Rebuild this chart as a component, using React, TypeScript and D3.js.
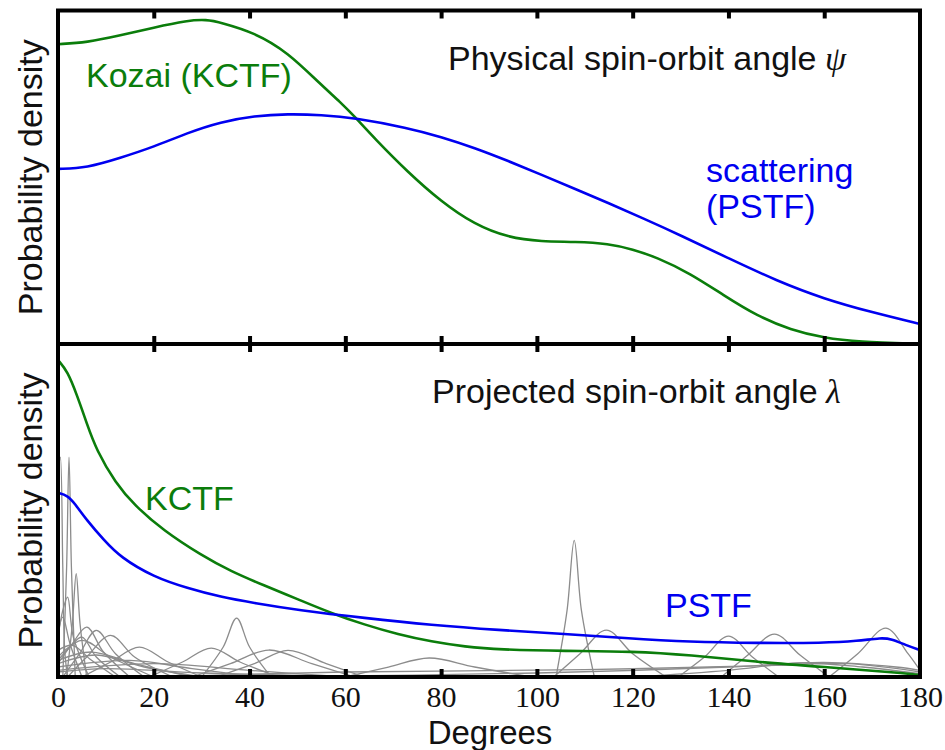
import React, { useEffect, useRef } from "react";
import * as d3 from "d3";

type Pt = [number, number];

// degrees on the x axis
const xTicks = [0, 20, 40, 60, 80, 100, 120, 140, 160, 180];

// top panel: physical spin-orbit angle psi (density, arbitrary units)
const kozaiPhysical: Pt[] = [
  [0, 0.899], [6, 0.904], [13, 0.925], [20, 0.949], [27, 0.97], [31, 0.973], [34, 0.964],
  [41, 0.934], [48, 0.875], [55, 0.776], [59, 0.725], [62, 0.681], [66, 0.618], [73, 0.516],
  [80, 0.427], [87, 0.358], [94, 0.319], [101, 0.307], [108, 0.307], [115, 0.301], [120, 0.284],
  [125, 0.26], [132, 0.212], [139, 0.146], [146, 0.084], [153, 0.042], [160, 0.018], [167, 0.006],
  [180, 0],
];
const scatterPhysical: Pt[] = [
  [0, 0.525], [6, 0.528], [13, 0.558], [20, 0.591], [27, 0.633], [34, 0.666], [41, 0.684],
  [48, 0.69], [55, 0.687], [62, 0.678], [73, 0.648], [80, 0.621], [87, 0.588], [94, 0.549],
  [101, 0.507], [108, 0.465], [115, 0.422], [122, 0.378], [130, 0.326], [140, 0.257],
  [150, 0.19], [160, 0.135], [170, 0.095], [180, 0.06],
];

// bottom panel: projected spin-orbit angle lambda
const kozaiProjected: Pt[] = [
  [0, 0.952], [2, 0.918], [4, 0.845], [6, 0.762], [8, 0.682], [12, 0.583], [16, 0.515],
  [22, 0.44], [30, 0.365], [36, 0.318], [43, 0.275], [50, 0.234], [57, 0.192], [64, 0.157],
  [71, 0.128], [78, 0.106], [85, 0.091], [92, 0.082], [106, 0.078], [120, 0.077], [132, 0.066],
  [146, 0.045], [160, 0.03], [174, 0.015], [180, 0.006],
];
const scatterProjected: Pt[] = [
  [0, 0.553], [2, 0.545], [3.4, 0.523], [6, 0.471], [9.6, 0.411], [13, 0.36], [20, 0.3],
  [27, 0.267], [34, 0.24], [41, 0.222], [50, 0.201], [64, 0.177], [78, 0.156], [92, 0.141],
  [106, 0.129], [118, 0.117], [132, 0.105], [146, 0.102], [160, 0.102], [167, 0.108],
  [172, 0.118], [174, 0.114], [177, 0.096], [180, 0.081],
];

// individual systems (thin grey curves)
const systemsProjected: Pt[][] = [
  [[0, 0.6], [0.5, 0.66], [1.0, 0.33], [1.4, 0.08], [2, 0]],
  [[1.0, 0], [1.8, 0.33], [2.3, 0.66], [2.8, 0.33], [3.6, 0]],
  [[1.8, 0], [3.0, 0.16], [3.8, 0.31], [4.6, 0.16], [6, 0]],
  [[0, 0.12], [1, 0.2], [2, 0.24], [3.2, 0.12], [6.5, 0]],
  [[0, 0.13], [1, 0.18], [2.5, 0.1], [5, 0]],
  [[0, 0.04], [3, 0.1], [6, 0.15], [9.5, 0.075], [15, 0]],
  [[1, 0], [4.5, 0.07], [8, 0.14], [12, 0.07], [18, 0]],
  [[2, 0], [6, 0.06], [11, 0.125], [16, 0.06], [24, 0]],
  [[0, 0.05], [2.5, 0.09], [5, 0.12], [8, 0.06], [13, 0]],
  [[0, 0.08], [3, 0.095], [7, 0.05], [12, 0]],
  [[0, 0.06], [5, 0.11], [11, 0.06], [20, 0]],
  [[0, 0.05], [7, 0.075], [16, 0.04], [28, 0]],
  [[0, 0.04], [8, 0.066], [18, 0.03], [30, 0]],
  [[0, 0.03], [15, 0.05], [28, 0.025], [42, 0]],
  [[0, 0.02], [20, 0.04], [40, 0.02], [60, 0]],
  [[5, 0], [11, 0.045], [17, 0.09], [23, 0.045], [30, 0]],
  [[0, 0.015], [10, 0.025], [30, 0.012], [70, 0]],
  [[30, 0], [34.5, 0.09], [37.3, 0.177], [40, 0.09], [44.5, 0]],
  [[19, 0], [26, 0.045], [32, 0.087], [38, 0.045], [46, 0]],
  [[28, 0], [36, 0.04], [44, 0.081], [53, 0.04], [62, 0]],
  [[33, 0], [41, 0.04], [48, 0.08], [56, 0.04], [64, 0]],
  [[60, 0], [69, 0.03], [77.5, 0.057], [87, 0.03], [99, 0]],
  [[104, 0], [106.3, 0.2], [107.8, 0.41], [109.3, 0.2], [112, 0]],
  [[103.5, 0], [109, 0.07], [114.5, 0.141], [120, 0.07], [127, 0]],
  [[129.5, 0], [135, 0.06], [140, 0.123], [145, 0.06], [150.5, 0]],
  [[138.5, 0], [144, 0.065], [149.6, 0.129], [155, 0.065], [161, 0]],
  [[161, 0], [167, 0.07], [172.9, 0.147], [177.5, 0.07], [180, 0.02]],
  [[20, 0], [60, 0.015], [110, 0.022], [150, 0.035], [165, 0.04], [180, 0.015]],
  [[40, 0], [100, 0.012], [140, 0.03], [160, 0.044], [175, 0.03], [180, 0.02]],
  [[120, 0], [140, 0.02], [155, 0.042], [168, 0.03], [180, 0.01]],
];

const GREEN = "#0b7d0b";
const BLUE = "#0000f0";
const SANS = "'Liberation Sans', Arial, Helvetica, sans-serif";
const SERIF = "'Liberation Serif', 'DejaVu Serif', serif";

const App = () => {
  const container = useRef<SVGSVGElement>(null);

  useEffect(() => {
    const svg = d3.select(container.current);
    svg.selectAll("*").remove();

    const left = 58, right = 920;
    const panels = [
      { top: 10.5, bottom: 344 },
      { top: 344, bottom: 677 },
    ];

    const x = d3.scaleLinear().domain([0, 180]).range([left, right]);
    const yTop = d3.scaleLinear().domain([0, 1]).range([panels[0].bottom, panels[0].top]);
    const yBot = d3.scaleLinear().domain([0, 1]).range([panels[1].bottom, panels[1].top]);

    const defs = svg.append("defs");
    panels.forEach((p, i) => {
      defs.append("clipPath").attr("id", "clip" + i)
        .append("rect")
        .attr("x", left).attr("y", p.top)
        .attr("width", right - left).attr("height", p.bottom - p.top);
    });

    // smooth density curves
    const smooth = (y: d3.ScaleLinear<number, number>) =>
      d3.line<Pt>().x(d => x(d[0])).y(d => y(d[1])).curve(d3.curveBasis);
    // thin per-system curves go through their peaks
    const bump = d3.line<Pt>().x(d => x(d[0])).y(d => yBot(d[1])).curve(d3.curveCatmullRom);

    // top panel curves
    const g0 = svg.append("g").attr("clip-path", "url(#clip0)");
    g0.append("path").datum(kozaiPhysical)
      .attr("d", smooth(yTop)).attr("fill", "none").attr("stroke", GREEN).attr("stroke-width", 2.6);
    g0.append("path").datum(scatterPhysical)
      .attr("d", smooth(yTop)).attr("fill", "none").attr("stroke", BLUE).attr("stroke-width", 2.6);

    // bottom panel curves
    const g1 = svg.append("g").attr("clip-path", "url(#clip1)");
    g1.selectAll("path.sys").data(systemsProjected).enter()
      .append("path").attr("class", "sys")
      .attr("d", d => bump(d))
      .attr("fill", "none").attr("stroke", "#8c8c8c").attr("stroke-width", 1.3);
    g1.append("path").datum(kozaiProjected)
      .attr("d", smooth(yBot)).attr("fill", "none").attr("stroke", GREEN).attr("stroke-width", 2.6);
    g1.append("path").datum(scatterProjected)
      .attr("d", smooth(yBot)).attr("fill", "none").attr("stroke", BLUE).attr("stroke-width", 2.6);

    // ticks, inward on every horizontal edge
    const inner = xTicks.filter(t => t > 0 && t < 180);
    panels.forEach(p => {
      svg.append("g").attr("transform", `translate(0,${p.top})`)
        .call(d3.axisTop(x).tickValues(inner).tickSize(-8).tickFormat(() => ""))
        .call(g => g.select(".domain").remove())
        .selectAll("line").attr("stroke", "#000").attr("stroke-width", 4);
      svg.append("g").attr("transform", `translate(0,${p.bottom})`)
        .call(d3.axisBottom(x).tickValues(inner).tickSize(-8).tickFormat(() => ""))
        .call(g => g.select(".domain").remove())
        .selectAll("line").attr("stroke", "#000").attr("stroke-width", 4);
    });

    // tick labels
    const labels = svg.append("g").attr("transform", `translate(0,${panels[1].bottom})`)
      .call(d3.axisBottom(x).tickValues(xTicks).tickSize(0).tickPadding(9).tickFormat(d3.format("d")));
    labels.select(".domain").remove();
    labels.selectAll("text")
      .attr("font-family", SERIF).attr("font-size", 30).attr("fill", "#111");

    // frames
    panels.forEach(p => {
      svg.append("rect")
        .attr("x", left).attr("y", p.top)
        .attr("width", right - left).attr("height", p.bottom - p.top)
        .attr("fill", "none").attr("stroke", "#000").attr("stroke-width", 4);
    });

    // axis titles
    panels.forEach(p => {
      svg.append("text")
        .attr("transform", `translate(42,${(p.top + p.bottom) / 2}) rotate(-90)`)
        .attr("text-anchor", "middle")
        .attr("font-family", SANS).attr("font-size", 34).attr("fill", "#111")
        .text("Probability density");
    });
    svg.append("text")
      .attr("x", 490).attr("y", 744)
      .attr("text-anchor", "middle")
      .attr("font-family", SANS).attr("font-size", 33).attr("fill", "#111")
      .text("Degrees");

    // annotations
    const note = (tx: number, ty: number, s: string, color: string, sym?: string) => {
      const t = svg.append("text").attr("x", tx).attr("y", ty)
        .attr("font-family", SANS).attr("font-size", 34).attr("fill", color).text(s);
      if (sym) {
        t.append("tspan").attr("font-family", SERIF).attr("font-style", "italic").text(" " + sym);
      }
    };
    note(448, 70, "Physical spin-orbit angle", "#111", "\u03C8");
    note(86, 87, "Kozai (KCTF)", GREEN);
    note(706, 182, "scattering", BLUE);
    note(706, 218, "(PSTF)", BLUE);
    note(432, 403, "Projected spin-orbit angle", "#111", "\u03BB");
    note(145, 510, "KCTF", GREEN);
    note(665, 617, "PSTF", BLUE);
  }, []);

  return (
    <svg ref={container} width={945} height={750}
      style={{ position: "absolute", left: 0, top: 0, background: "#fff" }} />
  );
};

export default App;
